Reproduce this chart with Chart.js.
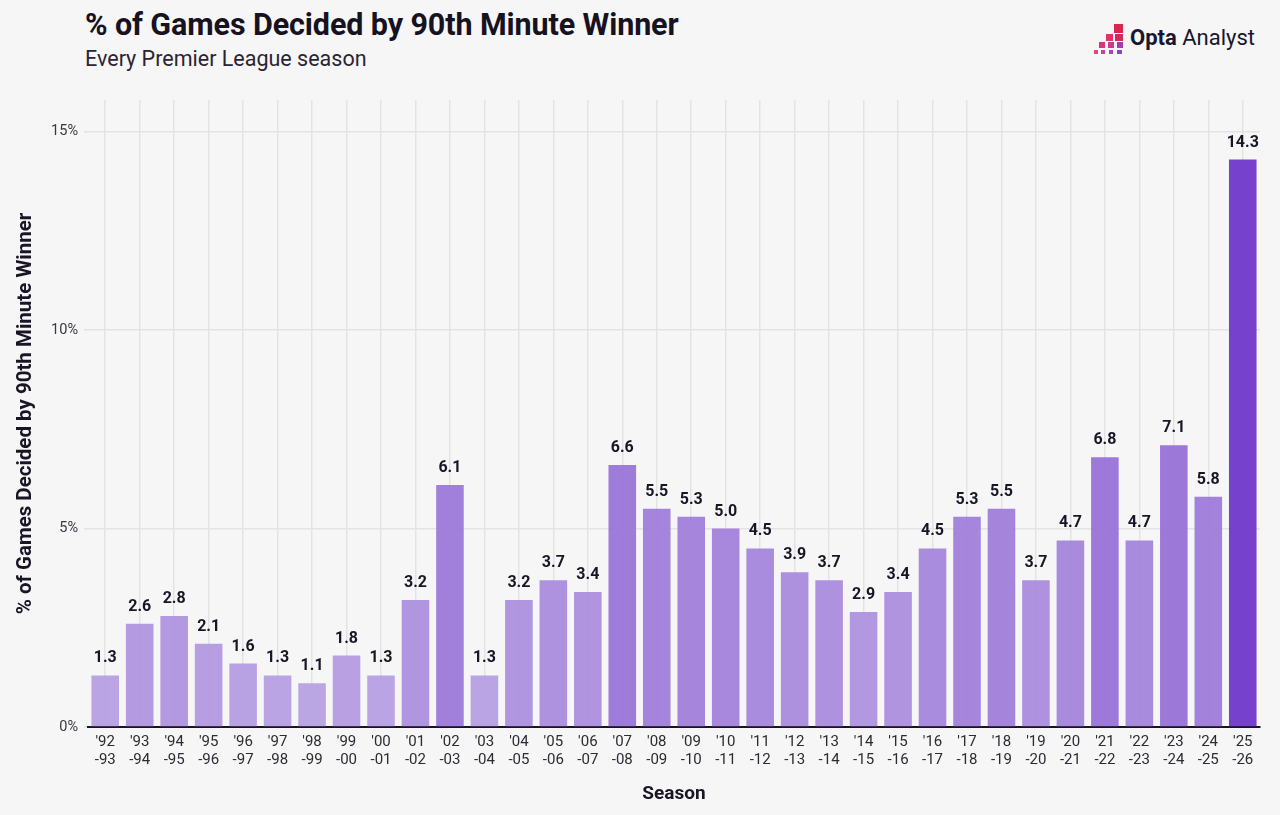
<!DOCTYPE html>
<html>
<head>
<meta charset="utf-8">
<script src="https://cdn.jsdelivr.net/npm/chart.js@4"></script>
<style>
  html, body { margin: 0; padding: 0; background: #f6f6f7; }
  body { width: 1280px; height: 815px; position: relative; overflow: hidden; font-family: Roboto, sans-serif; }
  #title { position: absolute; left: 85px; top: 7px; font-size: 30.5px; font-weight: 700; color: #17121f; letter-spacing: -0.1px; }
  #subtitle { position: absolute; left: 85px; top: 46px; font-size: 21.5px; font-weight: 400; color: #2a2533; }
  #logo { position: absolute; left: 1092px; top: 22px; width: 170px; height: 34px; }
  #logo .sq { position: absolute; }
  #logo .txt { position: absolute; left: 38px; top: 3px; font-size: 22px; color: #1a1530; white-space: nowrap; }
  #wrap { position: absolute; left: 0; top: 0; width: 1280px; height: 815px; }
</style>
</head>
<body>
<div id="title">% of Games Decided by 90th Minute Winner</div>
<div id="subtitle">Every Premier League season</div>
<div id="logo">
  <div class="sq" style="left:22px;top:2px;width:9px;height:9px;background:#d8264c"></div>
  <div class="sq" style="left:14px;top:12px;width:7px;height:7px;background:#e0336a"></div>
  <div class="sq" style="left:23px;top:12px;width:8px;height:7px;background:#d42a5c"></div>
  <div class="sq" style="left:7px;top:20px;width:6px;height:6px;background:#d9357a"></div>
  <div class="sq" style="left:16px;top:20px;width:6px;height:6px;background:#c83a8c"></div>
  <div class="sq" style="left:25px;top:20px;width:6px;height:6px;background:#a33bb0"></div>
  <div class="sq" style="left:2px;top:28px;width:4px;height:4px;background:#e04a7a"></div>
  <div class="sq" style="left:9px;top:28px;width:4px;height:4px;background:#c4449a"></div>
  <div class="sq" style="left:17px;top:28px;width:4px;height:4px;background:#a548b8"></div>
  <div class="sq" style="left:25px;top:28px;width:5px;height:4px;background:#8a45c8"></div>
  <div class="txt"><b style="font-weight:700">Opta</b> Analyst</div>
</div>
<div id="wrap"><canvas id="chart" width="1280" height="815"></canvas></div>
<script>
var seasons = ["'92\n-93","'93\n-94","'94\n-95","'95\n-96","'96\n-97","'97\n-98","'98\n-99","'99\n-00","'00\n-01","'01\n-02",
  "'02\n-03","'03\n-04","'04\n-05","'05\n-06","'06\n-07","'07\n-08","'08\n-09","'09\n-10","'10\n-11","'11\n-12",
  "'12\n-13","'13\n-14","'14\n-15","'15\n-16","'16\n-17","'17\n-18","'18\n-19","'19\n-20","'20\n-21","'21\n-22",
  "'22\n-23","'23\n-24","'24\n-25","'25\n-26"];
var pctValues = [1.3, 2.6, 2.8, 2.1, 1.6, 1.3, 1.1, 1.8, 1.3, 3.2,
  6.1, 1.3, 3.2, 3.7, 3.4, 6.6, 5.5, 5.3, 5.0, 4.5,
  3.9, 3.7, 2.9, 3.4, 4.5, 5.3, 5.5, 3.7, 4.7, 6.8,
  4.7, 7.1, 5.8, 14.3];
var yTicks = [0, 5, 10, 15];

// light -> dark purple by value
var lightCol = [182, 158, 225], darkCol = [104, 46, 198];
function barColour(v) {
  var t = Math.max(0, Math.min(1, (v - 1) / 13.3));
  var c = lightCol.map((l, i) => Math.round(l + (darkCol[i] - l) * t));
  return 'rgba(' + c.join(',') + ',0.9)';
}

var valueLabels = {
  id: 'valueLabels',
  afterDatasetsDraw(chart) {
    var ctx = chart.ctx;
    var meta = chart.getDatasetMeta(0);
    ctx.save();
    ctx.font = '700 16px Roboto';
    ctx.fillStyle = '#1a1525';
    ctx.textAlign = 'center';
    ctx.textBaseline = 'bottom';
    meta.data.forEach((bar, i) => {
      ctx.fillText(pctValues[i].toFixed(1), bar.x, bar.y - 9);
    });
    ctx.restore();
  }
};

new Chart(document.getElementById('chart'), {
  type: 'bar',
  data: {
    labels: seasons.map(s => s.split('\n')),
    datasets: [{
      data: pctValues,
      backgroundColor: pctValues.map(barColour),
      barPercentage: 0.8,
      categoryPercentage: 1.0
    }]
  },
  options: {
    responsive: false,
    animation: false,
    layout: { padding: { left: 0, top: 100, right: 20, bottom: 0 } },
    plugins: { legend: { display: false }, tooltip: { enabled: false } },
    scales: {
      x: {
        grid: { display: true, offset: false, color: '#e3e3e5', lineWidth: 1.5, drawTicks: false },
        border: { display: true, color: '#1a1326', width: 2 },
        ticks: { color: '#2d2a33', font: { family: 'Roboto', size: 15, lineHeight: 1.15 }, padding: 7, maxRotation: 0, autoSkip: false },
        title: { display: true, text: 'Season', color: '#1a1525', font: { family: 'Roboto', size: 19, weight: '700' }, padding: { top: 0, bottom: 9 } },
        afterFit: function (scale) { scale.height = 88; }
      },
      y: {
        min: 0,
        max: 15.8,
        afterBuildTicks: function (scale) { scale.ticks = yTicks.map(v => ({ value: v })); },
        grid: { color: '#e3e3e5', lineWidth: 1.5, tickLength: 4, tickColor: '#e3e3e5' },
        border: { display: false },
        ticks: { color: '#3a3640', font: { family: 'Roboto', size: 14.5 }, padding: 6, callback: v => v + '%' },
        title: { display: true, text: '% of Games Decided by 90th Minute Winner', color: '#1a1525', font: { family: 'Roboto', size: 20.5, weight: '700' }, padding: { top: 14, bottom: 0 } },
        afterFit: function (scale) { scale.width = 88; }
      }
    }
  },
  plugins: [valueLabels]
});
</script>
</body>
</html>
